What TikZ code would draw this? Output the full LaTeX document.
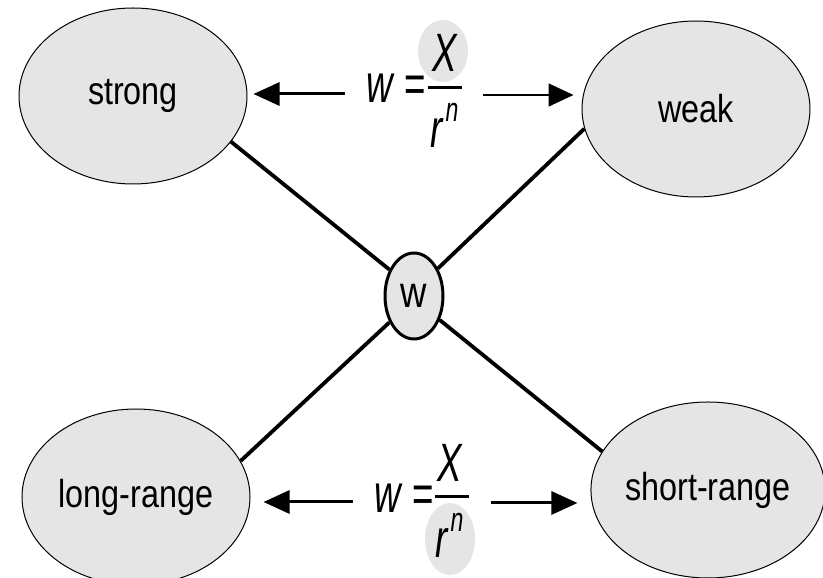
\documentclass[tikz,border=0pt]{standalone}
\usepackage{fontspec}
\setmainfont{Liberation Sans}[FakeStretch=0.83]
\newfontfamily\formfont{Liberation Sans}[FakeStretch=0.68]
\usetikzlibrary{arrows.meta,shapes.geometric}
\newcommand{\rpow}{\textit{r}\hspace{2pt}\raisebox{26pt}{\fontsize{34}{36}\selectfont\textit{n}}}
\tikzset{
  blob/.style={draw=black, line width=1pt, fill=black!10, ellipse, inner sep=0pt,
    minimum width=228pt, minimum height=176pt, font=\fontsize{39}{41}\selectfont},
  hub/.style={draw=black, line width=3pt, fill=black!10, ellipse, inner sep=0pt,
    minimum width=58pt, minimum height=86pt, font=\fontsize{44}{46}\selectfont},
  link/.style={line width=3.8pt},
  fat/.style={line width=3pt, -{Triangle[length=26pt,width=23pt]}},
  slim/.style={line width=1.5pt, -{Triangle[length=25pt,width=23pt]}},
  eq/.style={inner sep=0pt, font=\formfont\fontsize{54}{56}\selectfont},
  shade/.style={fill=black!10, draw=none}
}
\begin{document}
\begin{tikzpicture}[x=1pt, y=1pt]
\useasboundingbox (0,0) rectangle (823,578);
% the four interactions
\node[blob] (strong) at (133,482) {strong};
\node[blob] (weak) at (696,469) {weak};
\node[blob] (longr) at (136,81) {long-range};
\node[blob] (shortr) at (708,88) {short-range};
\node[hub] (w) at (414,282) {w};
\draw[link] (strong.-25) -- (w.133);
\draw[link] (weak.190) -- (w.49);
\draw[link] (longr.19) -- (w.227);
\draw[link] (shortr.160) -- (w.-43);
% upper formula
\fill[shade] (443,527) ellipse [x radius=25, y radius=31];
\node[eq, anchor=base] (wtop) at (396,475) {\textit{w}\,=};
\node[eq] (Xtop) at (445,525) {\textit{X}};
\node[eq, anchor=base west] (rtop) at (430,430) {\rpow};
\draw[line width=3pt] (428,490) -- (462,490);
\coordinate (tl) at (345,484);
\coordinate (tr) at (483,483);
\draw[fat] (tl) -- ([xshift=6pt]tl -| strong.east);
\draw[slim] (tr) -- ([xshift=-8pt]tr -| weak.west);
% lower formula
\fill[shade] (450,39) ellipse [x radius=25, y radius=36];
\node[eq, anchor=base] (wbot) at (404,65) {\textit{w}\,=};
\node[eq] (Xbot) at (450,115) {\textit{X}};
\node[eq, anchor=base west] (rbot) at (435,20) {\rpow};
\draw[line width=3pt] (435,81) -- (469,81);
\coordinate (bl) at (353,76);
\coordinate (br) at (491,75);
\draw[fat] (bl) -- ([xshift=13pt]bl -| longr.east);
\draw[fat] (br) -- ([xshift=-13pt]br -| shortr.west);
\end{tikzpicture}
\end{document}
